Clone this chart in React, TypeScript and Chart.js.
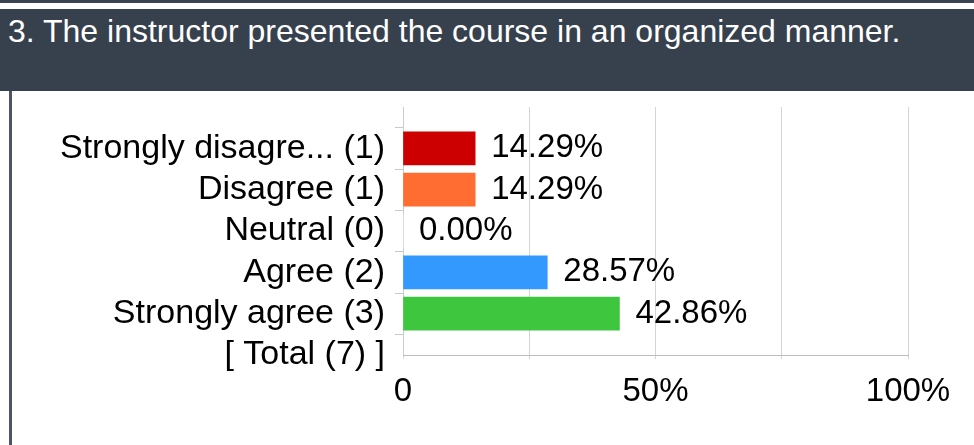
import React, { useEffect, useRef } from "react";
import { Chart, registerables } from "chart.js";

Chart.register(...registerables);

const TITLE = "3. The instructor presented the course in an organized manner.";
const CATEGORIES = [
  "Strongly disagre... (1)",
  "Disagree (1)",
  "Neutral (0)",
  "Agree (2)",
  "Strongly agree (3)",
  "[ Total (7) ]",
];
const PERCENTS: (number | null)[] = [14.29, 14.29, 0, 28.57, 42.86, null];
const BAR_COLORS = ["#cc0000", "#ff6d33", "#ffffff", "#3399ff", "#3ec73e", "#ffffff"];
const X_TICK_VALUES = [0, 50, 100];
const X_TICK_LABELS = ["0", "50%", "100%"];

const FONT = "'Liberation Sans', Arial, sans-serif";

const valueLabels = {
  id: "valueLabels",
  afterDatasetsDraw(chart: any) {
    const ctx = chart.ctx;
    const meta = chart.getDatasetMeta(0);
    const data = chart.data.datasets[0].data;
    ctx.save();
    ctx.font = `33px ${FONT}`;
    ctx.fillStyle = "#000";
    ctx.textAlign = "left";
    ctx.textBaseline = "middle";
    meta.data.forEach((el: any, i: number) => {
      const v = data[i];
      if (v === null || v === undefined) return;
      const right = Math.max(el.x, el.base);
      ctx.fillText(`${Number(v).toFixed(2)}%`, right + 16, el.y);
    });
    ctx.restore();
  },
};

export default function App() {
  const ref = useRef<HTMLCanvasElement>(null);

  useEffect(() => {
    if (!ref.current) return;
    const labels = ["", ...CATEGORIES];
    const data = [null, ...PERCENTS];
    const colors = ["#ffffff", ...BAR_COLORS];
    const chart = new Chart(ref.current, {
      type: "bar",
      data: {
        labels,
        datasets: [
          {
            data: data as any,
            backgroundColor: colors,
            borderWidth: 0,
            barThickness: 33,
          },
        ],
      },
      options: {
        indexAxis: "y",
        animation: false,
        responsive: false,
        devicePixelRatio: 1,
        layout: { padding: { top: 16, right: 66, bottom: 0, left: 0 } },
        plugins: {
          legend: { display: false },
          tooltip: { enabled: false },
          title: { display: false },
        },
        scales: {
          y: {
            type: "category",
            offset: false,
            grid: {
              display: true,
              drawOnChartArea: false,
              drawTicks: true,
              tickLength: 8,
              tickColor: (c: any) => (c.index === 0 ? "rgba(0,0,0,0)" : "#c8c8c8"),
            },
            border: { display: true, color: "#cccccc" },
            ticks: {
              autoSkip: false,
              padding: 10,
              color: "#000",
              font: { family: FONT, size: 34 },
            },
            afterFit: (s: any) => {
              s.width = 391;
              s.paddingTop = 0;
              s.paddingBottom = 0;
            },
          },
          x: {
            type: "linear",
            min: 0,
            max: 100,
            grid: {
              color: "#d4d4d4",
              lineWidth: 1,
              drawTicks: true,
              tickLength: 4,
              tickColor: "#d4d4d4",
            },
            border: { display: true, color: "#bdbdbd" },
            ticks: {
              stepSize: 25,
              autoSkip: false,
              maxRotation: 0,
              padding: 13,
              color: "#000",
              font: { family: FONT, size: 33 },
              callback: (v: any) => {
                const i = X_TICK_VALUES.indexOf(Number(v));
                return i >= 0 ? X_TICK_LABELS[i] : "";
              },
            },
            afterFit: (s: any) => {
              s.height = 90;
              s.paddingLeft = 0;
              s.paddingRight = 0;
            },
          },
        },
      },
      plugins: [valueLabels],
    });
    return () => chart.destroy();
  }, []);

  return (
    <div
      style={{
        position: "fixed",
        left: 0,
        top: 0,
        width: 974,
        height: 445,
        background: "#ffffff",
        overflow: "hidden",
      }}
    >
      <div style={{ position: "absolute", left: 0, top: 0, width: 974, height: 3, background: "#3b4551" }} />
      <div
        style={{
          position: "absolute",
          left: 0,
          top: 9,
          width: 974,
          height: 82,
          background: "#37414e",
        }}
      />
      <div
        style={{
          position: "absolute",
          left: 8,
          top: 15,
          fontFamily: FONT,
          fontSize: 32,
          lineHeight: "32px",
          color: "#ffffff",
          whiteSpace: "nowrap",
        }}
      >
        {TITLE}
      </div>
      <div style={{ position: "absolute", left: 9, top: 91, width: 3, height: 354, background: "#4a5566" }} />
      <canvas
        ref={ref}
        width={962}
        height={354}
        style={{ position: "absolute", left: 12, top: 91, width: 962, height: 354 }}
      />
    </div>
  );
}
